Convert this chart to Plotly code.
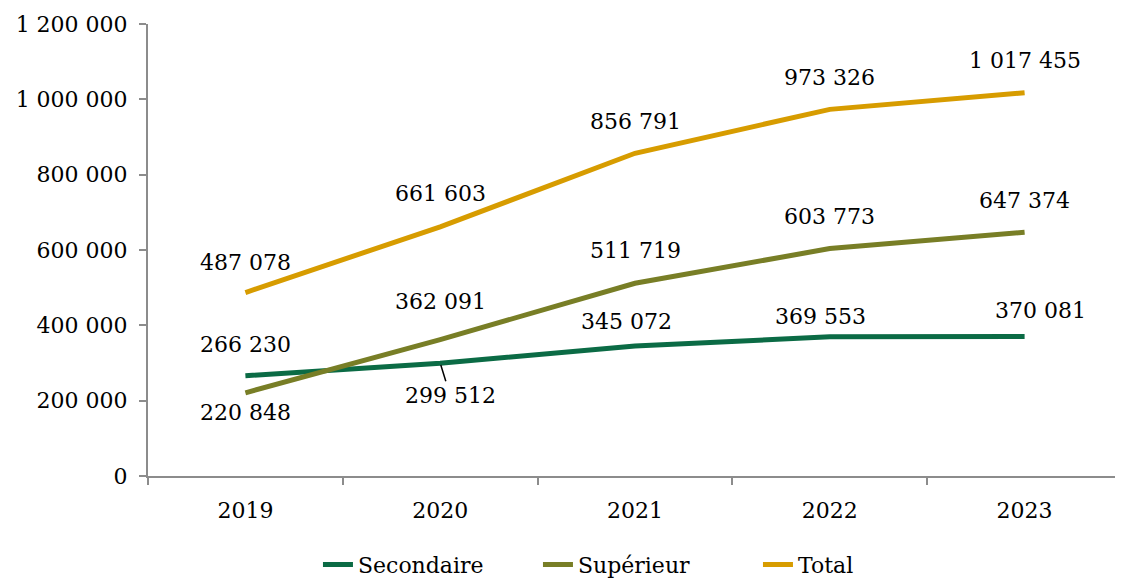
import plotly.graph_objects as go

years = ["2019", "2020", "2021", "2022", "2023"]
secondaire = [266230, 299512, 345072, 369553, 370081]
superieur = [220848, 362091, 511719, 603773, 647374]
total = [487078, 661603, 856791, 973326, 1017455]

series_names = ["Secondaire", "Supérieur", "Total"]
series_colors = ["#0b6b45", "#787e26", "#d79c00"]
series_values = [secondaire, superieur, total]

# label offsets (px) per point: (xshift, yshift)
label_offsets = {
    "Secondaire": [(0, 31), None, (-9, 25), (-9, 20), (16, 26)],
    "Supérieur": [(0, -20), (0, 38), (0, 33), (0, 32), (0, 32)],
    "Total": [(0, 30), (0, 33), (0, 32), (0, 32), (0, 32)],
}

FONT = "DejaVu Serif"
FS = 22
LEG_FS = 22


def fmt(v):
    return f"{v:,}".replace(",", " ")


fig = go.Figure()
for name, color, vals in zip(series_names, series_colors, series_values):
    fig.add_trace(go.Scatter(
        x=list(range(len(years))), y=vals, name=name, mode="lines",
        line=dict(color=color, width=5),
    ))

for name, vals in zip(series_names, series_values):
    for i, v in enumerate(vals):
        off = label_offsets[name][i]
        if off is None:
            fig.add_annotation(
                x=i, y=v, xref="x", yref="y", text=fmt(v), showarrow=True,
                arrowhead=0, arrowwidth=1.5, arrowcolor="black", ax=10, ay=32,
                standoff=2, font=dict(family=FONT, size=FS, color="black"),
            )
        else:
            fig.add_annotation(
                x=i, y=v, xref="x", yref="y", text=fmt(v), showarrow=False,
                xshift=off[0], yshift=off[1],
                font=dict(family=FONT, size=FS, color="black"),
            )

# page body has an 8px default margin, so the figure is offset by 8px
fig.update_layout(
    width=1115, height=570,
    margin=dict(l=140, r=1, t=16, b=102, autoexpand=False),
    plot_bgcolor="white", paper_bgcolor="white",
    separators=", ",
    font=dict(family=FONT, size=FS, color="black"),
    showlegend=True,
    legend=dict(orientation="h", x=0.1745, xanchor="left", y=-0.15,
                yanchor="top", entrywidth=175, entrywidthmode="pixels",
                font=dict(family=FONT, size=LEG_FS, color="black")),
)
fig.update_xaxes(
    range=[-0.5, 4.5], tickmode="array",
    tickvals=list(range(len(years))), ticktext=years,
    showline=True, linecolor="#8c8c8c", linewidth=2,
    ticks="", showgrid=False, zeroline=False, automargin=False,
    minor=dict(tickmode="array", tickvals=[-0.5, 0.5, 1.5, 2.5, 3.5, 4.5],
               ticks="outside", ticklen=7, tickcolor="#8c8c8c", tickwidth=2,
               showgrid=False),
    ticklabelstandoff=14,
)
fig.update_yaxes(
    range=[0, 1200000], dtick=200000, tickformat=",d",
    showline=True, linecolor="#8c8c8c", linewidth=2,
    ticks="outside", ticklen=7, tickcolor="#8c8c8c", tickwidth=2,
    showgrid=False, zeroline=False, ticklabelstandoff=7, automargin=False,
)

fig.write_html("out.html")
